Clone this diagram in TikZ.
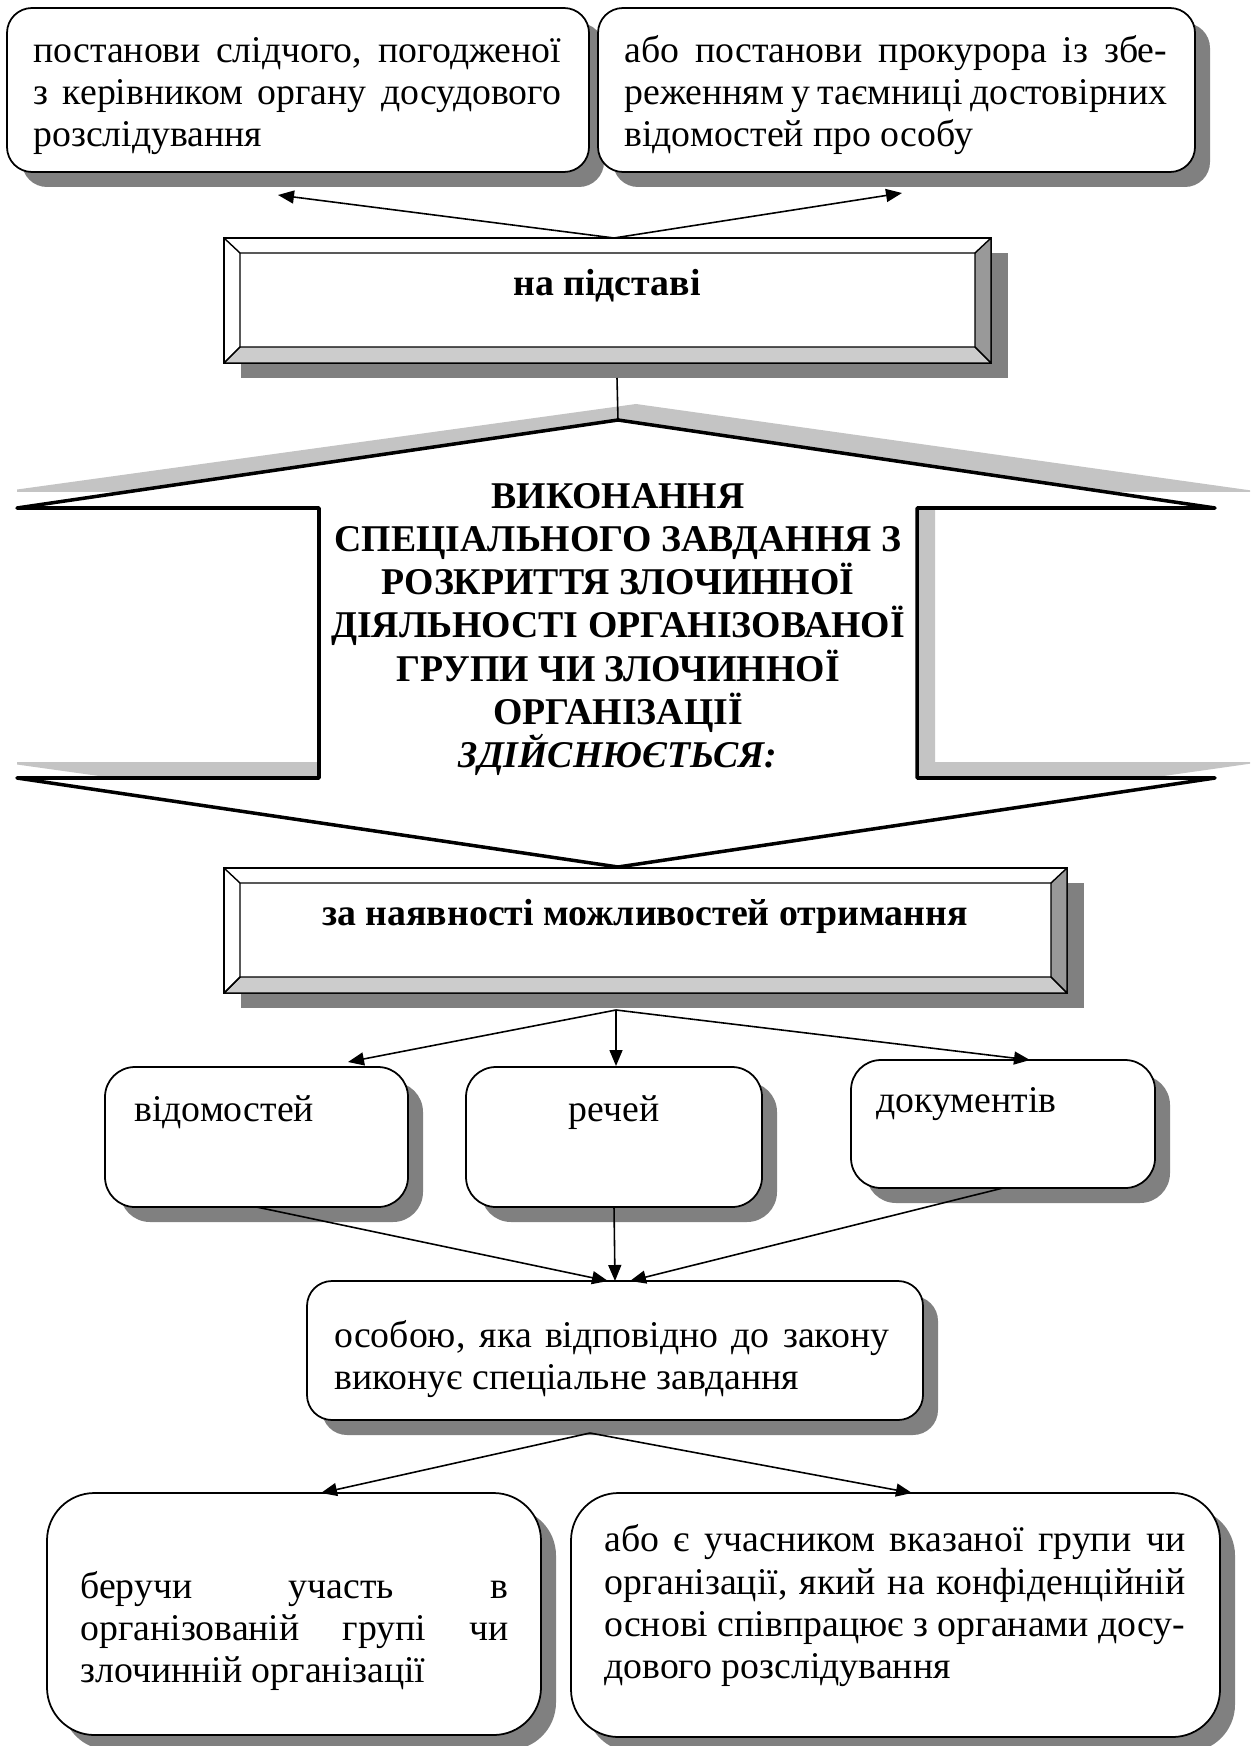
\documentclass[tikz,border=0pt]{standalone}
\usepackage{fontspec}
\setmainfont{Liberation Serif}
\usetikzlibrary{arrows.meta,shadows,fit,calc}
\definecolor{shgray}{HTML}{808080}
\definecolor{bigsh}{HTML}{C4C4C4}
\definecolor{bevb}{HTML}{CCCCCC}
\definecolor{bevr}{HTML}{999999}
\newcommand\myreg{\fontsize{21.5}{24}\selectfont}
\newcommand\mybold{\fontsize{21.5}{24.6}\selectfont\bfseries}
\hbadness=10000
\hfuzz=50pt
\tikzset{
  rbox/.style={inner sep=0pt, outer sep=0pt, draw=black, line width=1pt, fill=white,
    rounded corners=#1,
    drop shadow={shadow xshift=0.3cm, shadow yshift=-0.3cm, fill=shgray, opacity=1}},
  bevbox/.style={inner sep=0pt, outer sep=0pt, draw=black, line width=0.8pt, fill=white,
    drop shadow={shadow xshift=0.34cm, shadow yshift=-0.3cm, fill=shgray, opacity=1}},
  conn/.style={line width=0.9pt},
  arr/.style={conn, -{Triangle[length=0.32cm, width=0.26cm]}},
  txt/.style={inner sep=0pt, align=left, font=\myreg},
  btxt/.style={inner sep=0pt, font=\mybold},
}
\begin{document}
\begin{tikzpicture}[x=0.02cm, y=-0.02cm]
\useasboundingbox[fill=white] (0,0) rectangle (1250,1746);

% ---------- big up-down arrow shape ----------
\begin{scope}
  \clip (17,0) rectangle (1250,1746);
  \fill[bigsh] (-1,492) -- (636,404) -- (1262,492) -- (935,492) -- (935,762) -- (1262,762)
    -- (636,851) -- (-1,762) -- (337,762) -- (337,492) -- cycle;
\end{scope}
\coordinate (T) at (618,420);
\coordinate (Bt) at (618,867);
\filldraw[fill=white, line width=2pt, line join=round]
  (17,508) -- (T) -- (1215,508) -- (917,508) -- (917,778) -- (1215,778)
  -- (Bt) -- (17,778) -- (319,778) -- (319,508) -- cycle;

% ---------- boxes ----------
\node[rbox=0.5cm, fit={(7,8) (589,172)}] (A) {};
\node[rbox=0.5cm, fit={(598,8) (1195,172)}] (B) {};
\node[bevbox, fit={(224,238) (991,363)}] (nap) {};
\node[bevbox, fit={(224,868) (1067,993)}] (zan) {};
\node[rbox=0.6cm, fit={(105,1067) (408,1207)}] (vid) {};
\node[rbox=0.6cm, fit={(466,1067) (762,1207)}] (rech) {};
\node[rbox=0.6cm, fit={(851,1060) (1155,1188)}] (dok) {};
\node[rbox=0.5cm, fit={(307,1281) (923,1420)}] (osoba) {};
\node[rbox=0.95cm, fit={(47,1493) (541,1735)}] (ber) {};
\node[rbox=0.95cm, fit={(571,1493) (1220,1737)}] (abo) {};

% bevels
\foreach \b in {nap,zan}{
  \coordinate (\b-iNW) at ([xshift=0.32cm,yshift=-0.3cm]\b.north west);
  \coordinate (\b-iNE) at ([xshift=-0.32cm,yshift=-0.3cm]\b.north east);
  \coordinate (\b-iSW) at ([xshift=0.32cm,yshift=0.32cm]\b.south west);
  \coordinate (\b-iSE) at ([xshift=-0.32cm,yshift=0.32cm]\b.south east);
  \filldraw[fill=bevb, line width=0.8pt, line join=round] (\b.south west) -- (\b.south east) -- (\b-iSE) -- (\b-iSW) -- cycle;
  \filldraw[fill=bevr, line width=0.8pt, line join=round] (\b.north east) -- (\b.south east) -- (\b-iSE) -- (\b-iNE) -- cycle;
  \draw[line width=0.8pt] (\b.north west) -- (\b-iNW) -- (\b-iNE);
  \draw[line width=0.8pt] (\b-iNW) -- (\b-iSW) -- (\b.south west);
}

% ---------- connectors ----------
\coordinate (j1) at (614,238);
\coordinate (tA) at (278,195);
\coordinate (tB) at (902,193);
\draw[arr] (j1) -- (tA);
\draw[arr] (j1) -- (tB);
\coordinate (nb) at (617,378);
\draw[conn] (nb) -- (T);

\coordinate (j2) at (616,1010);
\coordinate (tV) at (348,1062);
\coordinate (tR) at (616,1066);
\coordinate (tD) at (1030,1060);
\draw[arr] (j2) -- (tV);
\draw[arr] (j2) -- (tR);
\draw[arr] (j2) -- (tD);

\draw[arr] (vid.south) -- ([xshift=-0.14cm]osoba.north);
\draw[arr] (rech.south) -- (osoba.north);
\draw[arr] (dok.south) -- ([xshift=0.3cm]osoba.north);

\coordinate (j3) at (590,1433);
\draw[arr] (j3) -- ([xshift=0.54cm]ber.north);
\draw[arr] (j3) -- ([xshift=0.33cm]abo.north);

% ---------- texts ----------
\node[txt, anchor=north west] (At) at (33,32.5)
  {\strut\makebox[10.56cm][s]{постанови слідчого, погодженої}\\
   \makebox[10.56cm][s]{з керівником органу досудового}\\
   розслідування};
\node[txt, anchor=north west] (Bt) at (624,32.5)
  {\strut\makebox[10.86cm][s]{або постанови прокурора із збе-}\\
   \makebox[10.86cm][s]{реженням у таємниці достовірних}\\
   відомостей про особу};
\node[btxt, anchor=base] (napt) at (607,296) {на підставі};
\node[btxt, anchor=north, align=center] (bigt) at (618,477.7)
  {\strut ВИКОНАННЯ\\
   СПЕЦІАЛЬНОГО ЗАВДАННЯ З\\
   РОЗКРИТТЯ ЗЛОЧИННОЇ\\
   ДІЯЛЬНОСТІ ОРГАНІЗОВАНОЇ\\
   ГРУПИ ЧИ ЗЛОЧИННОЇ\\
   ОРГАНІЗАЦІЇ\\
   \textit{ЗДІЙСНЮЄТЬСЯ:}};
\node[btxt, anchor=base] (zant) at (645,925) {за наявності можливостей отримання};
\node[txt, anchor=base west] (vidt) at (134,1121) {відомостей};
\node[txt, anchor=base] (recht) at (614,1121) {речей};
\node[txt, anchor=base west] (dokt) at (876,1112) {документів};
\node[txt, anchor=north west] (osobat) at (334,1317.5)
  {\strut\makebox[11.1cm][s]{особою, яка відповідно до закону}\\
   виконує спеціальне завдання};
\node[txt, anchor=north west] (bert) at (80,1568.5)
  {\strut\makebox[8.56cm][s]{беручи участь в}\\
   \makebox[8.56cm][s]{організованій групі чи}\\
   злочинній організації};
\node[txt, anchor=north west] (abot) at (604,1522)
  {\strut\makebox[11.62cm][s]{або є учасником вказаної групи чи}\\
   \makebox[11.62cm][s]{організації, який на конфіденційній}\\
   \makebox[11.62cm][s]{основі співпрацює з органами досу-}\\
   дового розслідування};
\end{tikzpicture}
\end{document}
